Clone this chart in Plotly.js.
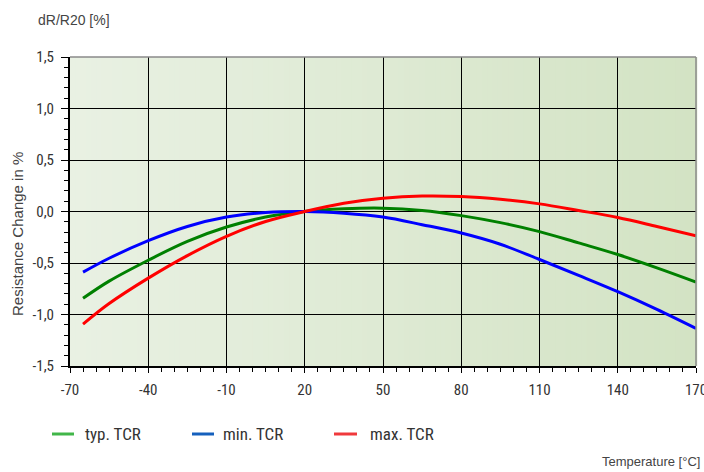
<!DOCTYPE html>
<html>
<head>
<meta charset="utf-8">
<script src="https://cdn.plot.ly/plotly-3.0.1.min.js"></script>
<style>
html,body{margin:0;padding:0;background:#fff;}
#chart{width:704px;height:472px;}
</style>
</head>
<body>
<div id="chart"></div>
<script>
// Temperature in °C
const temps = [-65, -55, -40, -25, -10, 5, 20, 35, 50, 65, 80, 95, 110, 125, 140, 155, 170];
// Resistance change dR/R20 in %
const typTCR = [-0.843, -0.676, -0.473, -0.290, -0.151, -0.054, 0, 0.026, 0.032, 0.010, -0.040, -0.108, -0.195, -0.305, -0.418, -0.547, -0.685];
const minTCR = [-0.589, -0.454, -0.283, -0.145, -0.054, -0.010, 0, -0.016, -0.054, -0.128, -0.209, -0.318, -0.466, -0.620, -0.778, -0.950, -1.135];
const maxTCR = [-1.094, -0.894, -0.647, -0.428, -0.241, -0.097, 0, 0.080, 0.129, 0.150, 0.145, 0.118, 0.074, 0.010, -0.058, -0.145, -0.235];

const seriesNames = ['typ. TCR', 'min. TCR', 'max. TCR'];
const lineColors = ['#008000', '#0000ff', '#ff0000'];
const legendColors = ['#41b649', '#1560bd', '#f0393c'];

const xTickVals = [-70, -40, -10, 20, 50, 80, 110, 140, 170];
const xTickText = ['-70', '-40', '-10', '20', '50', '80', '110', '140', '170'];
const yTickVals = [-1.5, -1.0, -0.5, 0, 0.5, 1.0, 1.5];
const yTickText = ['-1,5', '-1,0', '-0,5', '0,0', '0,5', '1,0', '1,5'];

const tickFont = {family: '"Liberation Sans Narrow", "Roboto Condensed", "DejaVu Sans Condensed", Roboto, sans-serif', size: 15, color: '#333'};
const titleFont = {family: '"Liberation Sans", Arial, sans-serif', size: 14, color: '#444'};

const seriesData = [typTCR, minTCR, maxTCR];
const traces = seriesData.map((vals, i) => ({
  x: temps, y: vals, type: 'scatter', mode: 'lines',
  line: {color: lineColors[i], width: 3, shape: 'spline', smoothing: 1},
  name: seriesNames[i], showlegend: false, hoverinfo: 'skip'
}));

// background gradient
const shapes = [];
const N = 120;
const c0 = [233, 241, 227], c1 = [211, 227, 196];
for (let i = 0; i < N; i++) {
  const t = (i + 0.5) / N;
  const c = c0.map((v, k) => Math.round(v + (c1[k] - v) * t));
  shapes.push({type: 'rect', xref: 'paper', yref: 'paper', x0: i / N, x1: (i + 1) / N + 0.002, y0: 0, y1: 1,
    fillcolor: `rgb(${c[0]},${c[1]},${c[2]})`, line: {width: 0}, layer: 'below'});
}
// top & right border
shapes.push({type: 'line', xref: 'paper', yref: 'paper', x0: 0, x1: 1, y0: 1, y1: 1, line: {color: '#8a8a8a', width: 1.5}});
shapes.push({type: 'line', xref: 'paper', yref: 'paper', x0: 1, x1: 1, y0: 0, y1: 1, line: {color: '#8a8a8a', width: 1.5}});

// custom legend
const plotL = 70, plotW = 626, plotB = 366, plotH = 309;
const px = v => (v - plotL) / plotW;
const py = v => (plotB - v) / plotH;
const legLineX = [[52, 74], [192, 214], [334, 357]];
const legTextX = [83, 221, 368];
const legY = 434;
const annotations = [];
seriesNames.forEach((n, i) => {
  shapes.push({type: 'line', xref: 'paper', yref: 'paper', x0: px(legLineX[i][0]), x1: px(legLineX[i][1]), y0: py(legY), y1: py(legY),
    line: {color: legendColors[i], width: 3}});
  annotations.push({xref: 'paper', yref: 'paper', x: px(legTextX[i]), y: py(legY), xanchor: 'left', yanchor: 'middle',
    text: n, showarrow: false, font: {family: tickFont.family, size: 17, color: '#333'}});
});
annotations.push({xref: 'paper', yref: 'paper', x: px(36), y: py(20), xanchor: 'left', yanchor: 'middle',
  text: 'dR/R20 [%]', showarrow: false, font: titleFont});
annotations.push({xref: 'paper', yref: 'paper', x: px(17), y: py(234), xanchor: 'center', yanchor: 'middle', textangle: -90,
  text: 'Resistance Change in %', showarrow: false, font: {family: titleFont.family, size: 15, color: '#444'}});
annotations.push({xref: 'paper', yref: 'paper', x: px(702), y: py(461), xanchor: 'right', yanchor: 'middle',
  text: 'Temperature [°C]', showarrow: false, font: {family: titleFont.family, size: 13, color: '#444'}});

const layout = {
  width: 704, height: 472,
  margin: {l: 70, r: 8, t: 57, b: 106, pad: 0},
  paper_bgcolor: '#ffffff', plot_bgcolor: 'rgba(0,0,0,0)',
  showlegend: false,
  xaxis: {
    range: [-70, 170], tickmode: 'array', tickvals: xTickVals, ticktext: xTickText,
    showgrid: true, gridcolor: '#000', gridwidth: 1, zeroline: false,
    showline: true, linecolor: '#000', linewidth: 2,
    ticks: 'outside', ticklen: 5, tickwidth: 1, tickcolor: '#000', ticklabelstandoff: 4,
    ticklabeloverflow: 'allow',
    minor: {tickmode: 'linear', tick0: -70, dtick: 5, ticks: 'outside', ticklen: 4, tickwidth: 1, tickcolor: '#000', showgrid: false},
    tickfont: tickFont, fixedrange: true
  },
  yaxis: {
    range: [-1.5, 1.5], tickmode: 'array', tickvals: yTickVals, ticktext: yTickText,
    showgrid: true, gridcolor: '#000', gridwidth: 1, zeroline: false,
    showline: true, linecolor: '#000', linewidth: 2,
    ticks: 'outside', ticklen: 7, tickwidth: 1, tickcolor: '#000', ticklabelstandoff: 4,
    minor: {tickmode: 'linear', tick0: -1.5, dtick: 0.1, ticks: 'outside', ticklen: 4, tickwidth: 1, tickcolor: '#000', showgrid: false},
    tickfont: tickFont, fixedrange: true
  },
  shapes: shapes,
  annotations: annotations
};

Plotly.newPlot('chart', traces, layout, {displayModeBar: false, staticPlot: true});
</script>
</body>
</html>
